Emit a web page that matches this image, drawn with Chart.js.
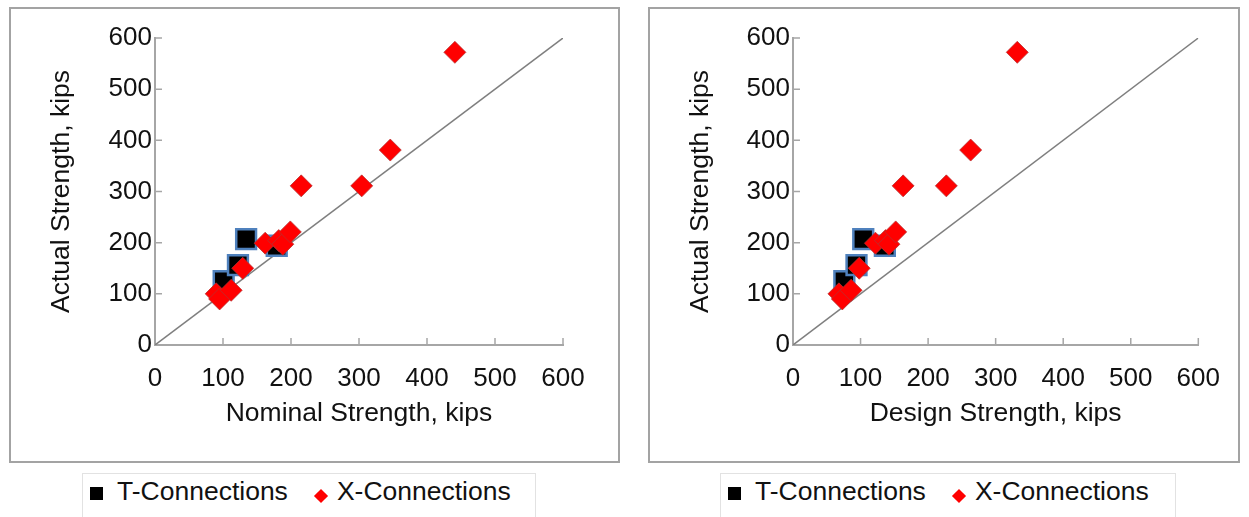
<!DOCTYPE html>
<html>
<head>
<meta charset="utf-8">
<script src="https://cdn.jsdelivr.net/npm/chart.js@4.4.0/dist/chart.umd.min.js"></script>
<style>
  body { margin: 0; background: #fff; width: 1249px; height: 517px; overflow: hidden; position: relative;
         font-family: Arial, 'Liberation Sans', sans-serif; }
  .box { position: absolute; top: 7px; border: 2px solid #a3a3a3; }
  .box canvas { display: block; }
  .legend { position: absolute; top: 473px; height: 44px; padding-top: 2px; border: 1px solid #e2e2e2; border-bottom: none;
            display: flex; align-items: flex-start; font-size: 26.5px; line-height: 30px; color: #111; }
  .legend .item { display: flex; align-items: flex-start; }
  .legend .mark { display: inline-block; }
</style>
</head>
<body>
<div class="box" style="left:9px;"><canvas id="chart-nominal" width="607" height="452"></canvas></div>
<div class="box" style="left:648px;"><canvas id="chart-design" width="588" height="452"></canvas></div>
<div class="legend" id="legend-nominal" style="left:82px; width:452px;"></div>
<div class="legend" id="legend-design" style="left:720px; width:454px;"></div>

<script>
// Axis ticks
const tickValues = [0, 100, 200, 300, 400, 500, 600];
const diagonal = [0, 600];

// T-Connections
const tNominal = [101, 122, 134, 179];
const tDesign = [76, 94, 104, 136];
const tActual = [125, 156, 207, 194];

// X-Connections
const xNominal = [90, 95, 112, 129, 162, 182, 188, 199, 215, 304, 346, 441];
const xDesign = [68, 73, 86, 98, 122, 137, 142, 152, 163, 227, 263, 332];
const xActual = [100, 90, 107, 150, 199, 204, 197, 221, 311, 311, 381, 572];

const FONT = "Arial, 'Liberation Sans', sans-serif";
const AXIS_GRAY = '#a6a6a6';

const toPoints = (xs, ys) => xs.map((x, i) => ({ x: x, y: ys[i] }));

// small tick marks drawn inside the plot area
const innerTicks = {
    id: 'innerTicks',
    beforeDatasetsDraw(chart) {
        const { ctx, chartArea: a, scales: { x, y } } = chart;
        ctx.save();
        ctx.strokeStyle = AXIS_GRAY;
        ctx.lineWidth = 1.5;
        ctx.beginPath();
        tickValues.forEach(v => {
            const px = x.getPixelForValue(v);
            ctx.moveTo(px, a.bottom);
            ctx.lineTo(px, a.bottom - 7);
            const py = y.getPixelForValue(v);
            ctx.moveTo(a.left, py);
            ctx.lineTo(a.left + 7, py);
        });
        ctx.stroke();
        ctx.restore();
    },
};

// legend below the framed chart
const htmlLegend = {
    id: 'htmlLegend',
    afterUpdate(chart, args, options) {
        const box = document.getElementById(options.containerID);
        box.innerHTML = '';
        chart.data.datasets.filter(ds => ds.label).forEach((ds, i) => {
            const item = document.createElement('div');
            item.className = 'item';
            const mark = document.createElement('span');
            mark.className = 'mark';
            const text = document.createElement('span');
            text.textContent = ds.label;
            if (ds.pointStyle === 'rect') {
                mark.style.cssText = 'width:13px;height:13px;background:#000;margin:11px 14px 0 7px;';
            } else {
                mark.style.cssText = 'width:10px;height:10px;background:' + ds.backgroundColor +
                    ';transform:rotate(45deg);margin:15px 11px 0 28px;';
            }
            item.appendChild(mark);
            item.appendChild(text);
            box.appendChild(item);
        });
    },
};

const makeChart = (canvasId, legendId, xTitle, tX, xX, yWidth, rightPad) => {
    const ctx = document.getElementById(canvasId);
    return new Chart(ctx, {
        type: 'scatter',
        data: {
            datasets: [
                {
                    label: 'T-Connections',
                    data: toPoints(tX, tActual),
                    pointStyle: 'rect',
                    pointRadius: 14,
                    backgroundColor: '#000000',
                    borderColor: '#4f81bd',
                    borderWidth: 2.5,
                    order: 2,
                },
                {
                    label: 'X-Connections',
                    data: toPoints(xX, xActual),
                    pointStyle: 'rectRot',
                    pointRadius: 11,
                    backgroundColor: '#ff0000',
                    borderColor: 'rgba(180,50,50,0.75)',
                    borderWidth: 1,
                    order: 1,
                },
                {
                    label: '',
                    data: toPoints(diagonal, diagonal),
                    showLine: true,
                    pointRadius: 0,
                    borderColor: '#7f7f7f',
                    borderWidth: 1.5,
                    order: 3,
                },
            ],
        },
        options: {
            responsive: false,
            animation: false,
            layout: {
                padding: { left: 0, top: 29, right: rightPad, bottom: 0 },
            },
            scales: {
                x: {
                    type: 'linear',
                    min: 0,
                    max: 600,
                    afterBuildTicks: (scale) => { scale.ticks = tickValues.map(v => ({ value: v })); },
                    afterFit: (scale) => { scale.height = 116; },
                    grid: { display: false, drawTicks: false },
                    border: { display: true, color: AXIS_GRAY, width: 2 },
                    ticks: { padding: 18, color: '#111', font: { family: FONT, size: 26 } },
                    title: {
                        display: true,
                        text: xTitle,
                        color: '#111',
                        font: { family: FONT, size: 26.5 },
                        padding: { top: 0, bottom: 31 },
                    },
                },
                y: {
                    type: 'linear',
                    min: 0,
                    max: 600,
                    afterBuildTicks: (scale) => { scale.ticks = tickValues.map(v => ({ value: v })); },
                    afterFit: (scale) => { scale.width = yWidth; },
                    grid: { display: false, drawTicks: false },
                    border: { display: true, color: AXIS_GRAY, width: 2 },
                    ticks: { padding: 3, color: '#111', font: { family: FONT, size: 26 } },
                    title: {
                        display: true,
                        text: 'Actual Strength, kips',
                        color: '#111',
                        font: { family: FONT, size: 26.5 },
                        padding: { top: 35, bottom: 0 },
                    },
                },
            },
            plugins: {
                legend: { display: false },
                tooltip: { enabled: false },
                htmlLegend: { containerID: legendId },
            },
        },
        plugins: [innerTicks, htmlLegend],
    });
};

makeChart('chart-nominal', 'legend-nominal', 'Nominal Strength, kips', tNominal, xNominal, 144, 55);
makeChart('chart-design', 'legend-design', 'Design Strength, kips', tDesign, xDesign, 143, 38);
</script>
</body>
</html>
